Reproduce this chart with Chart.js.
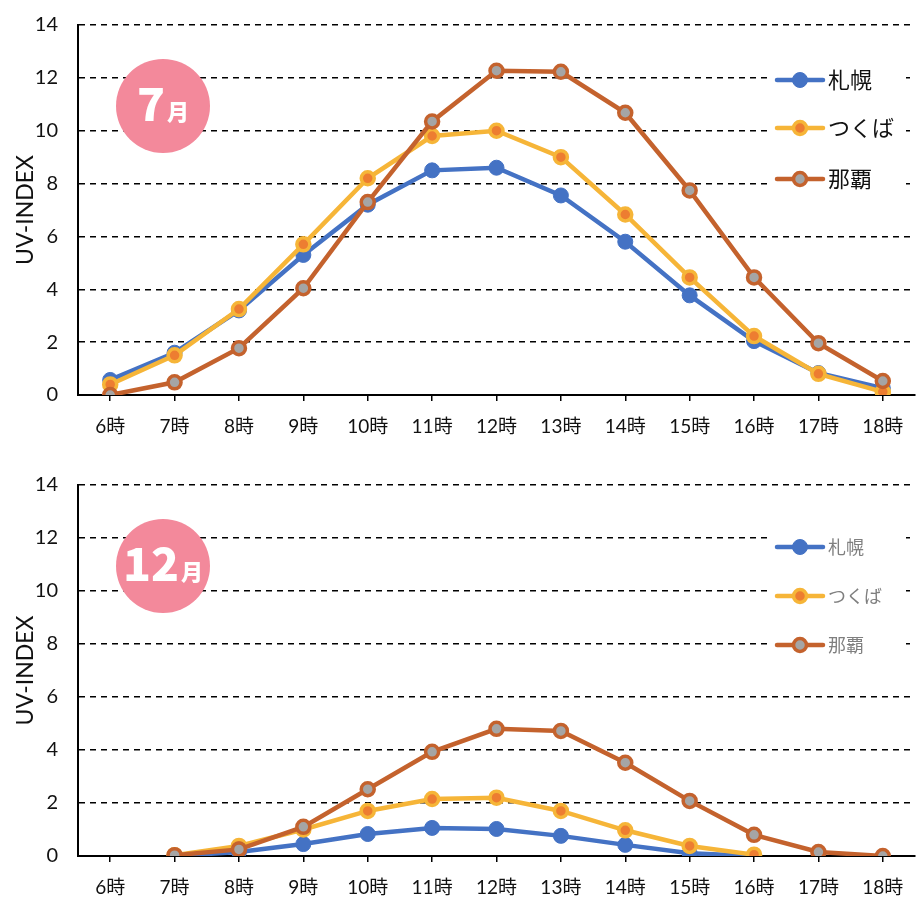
<!DOCTYPE html>
<html>
<head>
<meta charset="utf-8">
<script src="https://cdn.jsdelivr.net/npm/chart.js@4"></script>
<style>
  html, body { margin: 0; padding: 0; background: #fff; overflow: hidden; }
  .wrap { width: 919px; height: 449px; overflow: hidden; position: relative; }
  canvas { display: block; }
  #julChart { margin-top: -7px; }
</style>
</head>
<body>
<div class="wrap"><canvas id="julChart" width="925" height="456"></canvas></div>
<div class="wrap"><canvas id="decChart" width="925" height="449"></canvas></div>
<script>
// ======= Data =======
const hours = ["6時", "7時", "8時", "9時", "10時", "11時", "12時", "13時", "14時", "15時", "16時", "17時", "18時"];
const cities = ["札幌", "つくば", "那覇"];
const yTicks = [0, 2, 4, 6, 8, 10, 12, 14];

// 7月
const julSapporo = [0.57, 1.6, 3.2, 5.3, 7.2, 8.5, 8.6, 7.55, 5.8, 3.77, 2.04, 0.83, 0.26];
const julTsukuba = [0.4, 1.5, 3.25, 5.7, 8.2, 9.8, 10.0, 9.0, 6.83, 4.45, 2.23, 0.8, 0.12];
const julNaha = [0.0, 0.48, 1.77, 4.04, 7.3, 10.35, 12.27, 12.23, 10.68, 7.74, 4.45, 1.96, 0.53];

// 12月
const decSapporo = [null, 0.0, 0.15, 0.45, 0.83, 1.06, 1.02, 0.76, 0.42, 0.1, 0.0, null, null];
const decTsukuba = [null, 0.03, 0.38, 1.0, 1.7, 2.15, 2.2, 1.7, 0.97, 0.38, 0.05, null, null];
const decNaha = [null, 0.03, 0.25, 1.1, 2.52, 3.93, 4.8, 4.72, 3.52, 2.08, 0.8, 0.15, 0.0];

// ======= Styles =======
const BLUE = "#4472C4";
const GOLD = "#F6B538";
const ORANGE = "#ED7D31";
const BROWN = "#C4622D";
const GRAY = "#A5A5A5";
const PINK = "#F3899B";
const FONT = "Lato, 'Noto Sans CJK JP', sans-serif";

function makeDatasets(s, t, n) {
  return [
    { label: cities[0], data: s, borderColor: BLUE, backgroundColor: BLUE, borderWidth: 4.5,
      pointRadius: 7.5, pointHoverRadius: 7.5, pointBackgroundColor: BLUE, pointBorderColor: BLUE, pointBorderWidth: 1, order: 2 },
    { label: cities[1], data: t, borderColor: GOLD, backgroundColor: GOLD, borderWidth: 4.5,
      pointRadius: 6.5, pointHoverRadius: 6.5, pointBackgroundColor: ORANGE, pointBorderColor: GOLD, pointBorderWidth: 3.5, order: 1 },
    { label: cities[2], data: n, borderColor: BROWN, backgroundColor: BROWN, borderWidth: 4.5,
      pointRadius: 6.5, pointHoverRadius: 6.5, pointBackgroundColor: GRAY, pointBorderColor: BROWN, pointBorderWidth: 3.5, order: 0 }
  ];
}

// legend + month badge drawn on the canvas
const decorPlugin = {
  id: "decor",
  afterDraw(chart, args, opts) {
    const ctx = chart.ctx;
    const area = chart.chartArea;
    ctx.save();

    // badge
    const bx = 163, by = area.top + 81, br = 47;
    ctx.fillStyle = PINK;
    ctx.beginPath();
    ctx.arc(bx, by, br, 0, Math.PI * 2);
    ctx.fill();
    ctx.fillStyle = "#fff";
    ctx.textBaseline = "alphabetic";
    ctx.textAlign = "left";
    const bigFont = "900 " + opts.bigSize + "px 'Noto Sans CJK JP', sans-serif";
    const smallFont = "900 22px 'Noto Sans CJK JP', sans-serif";
    ctx.font = bigFont;
    const w1 = ctx.measureText(opts.month).width;
    ctx.font = smallFont;
    const w2 = ctx.measureText("月").width;
    let tx = bx - (w1 + w2 + 2) / 2;
    const base = by + 15;
    ctx.font = bigFont;
    ctx.fillText(opts.month, tx, base);
    ctx.font = smallFont;
    ctx.fillText("月", tx + w1 + 2, base - 1);

    // legend
    ctx.fillStyle = "#fff";
    ctx.fillRect(768, area.top + 28, 138, 146);
    chart.data.datasets.forEach((ds, i) => {
      const y = area.top + opts.legendY[i];
      ctx.strokeStyle = ds.borderColor;
      ctx.lineWidth = 4.5;
      ctx.lineCap = "round";
      ctx.beginPath();
      ctx.moveTo(777, y);
      ctx.lineTo(823, y);
      ctx.stroke();
      ctx.fillStyle = ds.pointBackgroundColor;
      ctx.strokeStyle = ds.pointBorderColor;
      ctx.lineWidth = ds.pointBorderWidth;
      ctx.beginPath();
      ctx.arc(800, y, ds.pointRadius, 0, Math.PI * 2);
      ctx.fill();
      ctx.stroke();
      ctx.fillStyle = opts.textColor;
      ctx.font = opts.textSize + "px 'Noto Sans CJK JP', sans-serif";
      ctx.textBaseline = "middle";
      ctx.fillText(ds.label, 828, y);
    });
    ctx.restore();
  }
};

function makeChart(id, datasets, topPad, xHeight, decor) {
  return new Chart(document.getElementById(id), {
    type: "line",
    data: { labels: hours, datasets: datasets },
    plugins: [decorPlugin],
    options: {
      responsive: false,
      animation: false,
      layout: { padding: { top: topPad, left: 0, right: 0, bottom: 0 } },
      plugins: { legend: { display: false }, tooltip: { enabled: false }, decor: decor },
      elements: { line: { tension: 0 } },
      scales: {
        x: {
          offset: true,
          grid: { drawOnChartArea: false, drawTicks: true, tickLength: 6, color: "#000", lineWidth: 1.5 },
          border: { display: true, color: "#000", width: 2 },
          ticks: { color: "#111", font: { family: FONT, size: 19 }, padding: 14, maxRotation: 0, autoSkip: false },
          afterFit(scale) { scale.height = xHeight; }
        },
        y: {
          min: 0, max: 14,
          afterBuildTicks(scale) { scale.ticks = yTicks.map(v => ({ value: v })); },
          grid: { drawTicks: false, color: "#000", lineWidth: 1.5 },
          border: { display: true, color: "#000", width: 2, dash: [6, 5] },
          ticks: { color: "#111", font: { family: FONT, size: 20 }, padding: 20 },
          title: { display: true, text: "UV-INDEX", color: "#111", font: { family: FONT, size: 23 }, padding: { top: 12, bottom: 0 } },
          afterFit(scale) { scale.width = 78; }
        }
      }
    }
  });
}

makeChart("julChart", makeDatasets(julSapporo, julTsukuba, julNaha), 24, 54,
  { month: "7", bigSize: 46, legendY: [55, 103, 154], textColor: "#111", textSize: 22 });
makeChart("decChart", makeDatasets(decSapporo, decTsukuba, decNaha), 36, 42,
  { month: "12", bigSize: 46, legendY: [62, 111, 160], textColor: "#7F7F7F", textSize: 18 });
</script>
</body>
</html>
